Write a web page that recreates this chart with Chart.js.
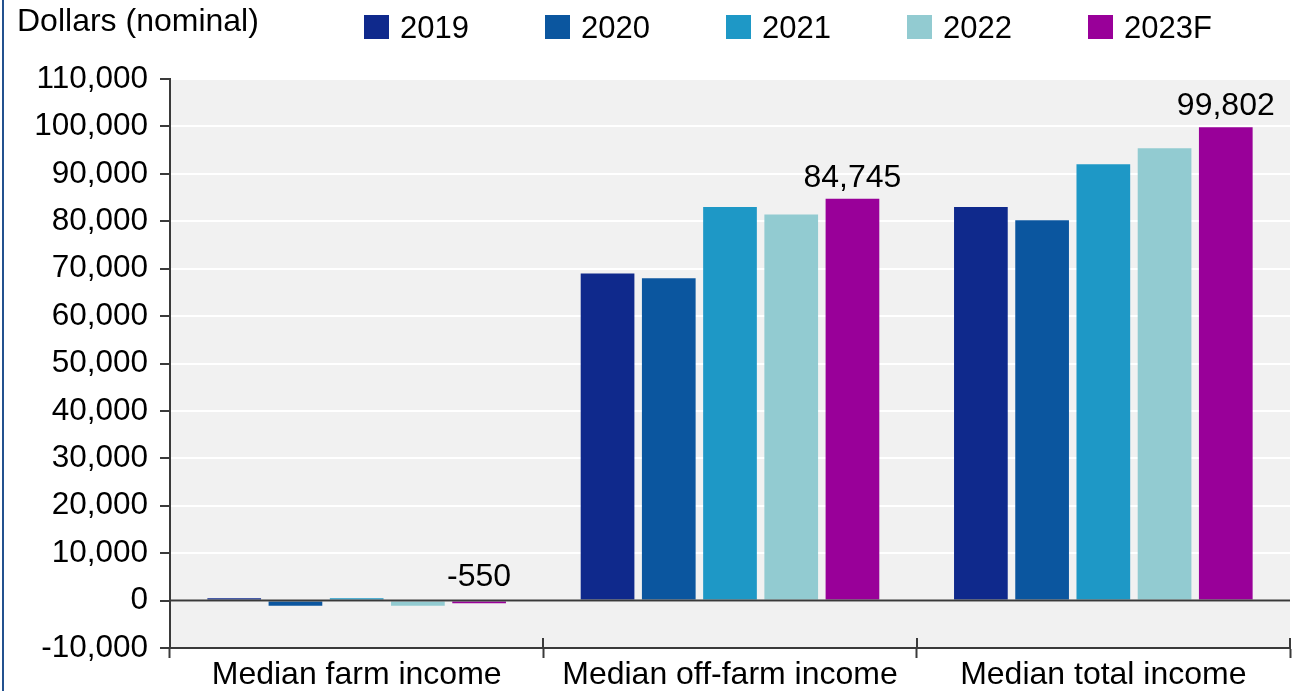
<!DOCTYPE html>
<html>
<head>
<meta charset="utf-8">
<title>Farm household income</title>
<script src="https://cdn.jsdelivr.net/npm/chart.js@4.4.1/dist/chart.umd.min.js"></script>
<style>
  html, body { margin: 0; padding: 0; background: #ffffff; }
  #wrap { width: 1294px; height: 691px; position: relative; }
</style>
</head>
<body>
<div id="wrap"><canvas id="chart" width="1294" height="691"></canvas></div>
<script>
// Categories and series
const categories = ['Median farm income', 'Median off-farm income', 'Median total income'];
const seriesNames = ['2019', '2020', '2021', '2022', '2023F'];
const values2019 = [500, 69000, 83000];
const values2020 = [-1100, 68000, 80200];
const values2021 = [500, 83000, 92000];
const values2022 = [-1100, 81400, 95400];
const values2023F = [-550, 84745, 99802];
const seriesColors = ['#0f298c', '#0b569f', '#1e98c6', '#92cbd1', '#990099'];

// Y axis range and step
const yMin = -10000;
const yMax = 110000;
const yStep = 10000;
const yAxisTitle = 'Dollars (nominal)';

// Only the forecast series carries value labels
const labeledSeries = '2023F';

const FONT = "'Liberation Sans', Arial, sans-serif";
const AXIS_COLOR = '#3a3a3a';

const allValues = [values2019, values2020, values2021, values2022, values2023F];

const fmt = v => v.toLocaleString('en-US');

// Page frame, plot background and the top header (axis title + legend)
const framePlugin = {
  id: 'frame',
  beforeDraw(chart) {
    const { ctx, chartArea: a } = chart;
    ctx.save();
    ctx.fillStyle = '#f1f1f1';
    ctx.fillRect(a.left, a.top, a.right - a.left, a.bottom - a.top);
    ctx.fillStyle = '#23518f';
    ctx.fillRect(2, 0, 2, chart.height);
    ctx.restore();
  },
  afterDraw(chart) {
    const { ctx } = chart;
    ctx.save();
    ctx.fillStyle = '#000';
    ctx.textBaseline = 'alphabetic';
    ctx.textAlign = 'left';
    ctx.font = '32px ' + FONT;
    ctx.fillText(yAxisTitle, 17, 31);
    ctx.font = '31px ' + FONT;
    chart.data.datasets.forEach((ds, i) => {
      const x0 = 364 + i * 181;
      ctx.fillStyle = ds.backgroundColor;
      ctx.fillRect(x0, 15, 25, 24);
      ctx.fillStyle = '#000';
      ctx.fillText(ds.label, x0 + 36, 38);
    });
    ctx.restore();
  }
};

// Zero line over the bars, category tick marks crossing the x axis, value labels
const axisPlugin = {
  id: 'axisMarks',
  afterDatasetsDraw(chart) {
    const { ctx, chartArea: a, scales } = chart;
    const y0 = scales.y.getPixelForValue(0);
    ctx.save();
    ctx.strokeStyle = AXIS_COLOR;
    ctx.lineWidth = 2;
    ctx.beginPath();
    ctx.moveTo(a.left, y0);
    ctx.lineTo(a.right, y0);
    ctx.stroke();
    const x = scales.x;
    const n = chart.data.labels.length;
    const w = (x.right - x.left) / n;
    ctx.beginPath();
    for (let k = 1; k <= n; k++) {
      const px = Math.round(x.left + k * w);
      ctx.moveTo(px, a.bottom - 10);
      ctx.lineTo(px, a.bottom);
    }
    ctx.stroke();
    ctx.restore();
  },
  afterDraw(chart) {
    const { ctx } = chart;
    ctx.save();
    ctx.font = '32px ' + FONT;
    ctx.fillStyle = '#000';
    ctx.textAlign = 'center';
    ctx.textBaseline = 'alphabetic';
    chart.data.datasets.forEach((ds, i) => {
      if (ds.label !== labeledSeries) return;
      chart.getDatasetMeta(i).data.forEach((bar, j) => {
        const top = Math.min(bar.y, bar.base);
        const gap = ds.data[j] < 0 ? 16 : 12;
        ctx.fillText(fmt(ds.data[j]), bar.x, top - gap);
      });
    });
    ctx.restore();
  }
};

new Chart(document.getElementById('chart'), {
  type: 'bar',
  data: {
    labels: categories,
    datasets: seriesNames.map((name, i) => ({
      label: name,
      data: allValues[i],
      backgroundColor: seriesColors[i],
      borderWidth: 0,
      categoryPercentage: 0.82,
      barPercentage: 0.877
    }))
  },
  options: {
    responsive: false,
    animation: false,
    devicePixelRatio: 1,
    layout: { padding: { top: 79, right: 4, left: 0, bottom: 0 } },
    plugins: {
      legend: { display: false },
      tooltip: { enabled: false }
    },
    scales: {
      x: {
        offset: true,
        afterFit(s) { s.height = 43; },
        grid: {
          display: true,
          drawOnChartArea: false,
          drawTicks: true,
          tickLength: 10,
          tickColor: AXIS_COLOR,
          tickWidth: 2,
          offset: true
        },
        border: { display: true, color: AXIS_COLOR, width: 2 },
        ticks: {
          color: '#000',
          padding: 1,
          font: { family: FONT, size: 32, lineHeight: 1 },
          maxRotation: 0
        }
      },
      y: {
        min: yMin,
        max: yMax,
        afterFit(s) { s.width = 170; },
        grid: {
          color: '#ffffff',
          lineWidth: 2,
          drawTicks: true,
          tickLength: 10,
          tickColor: AXIS_COLOR,
          tickWidth: 2
        },
        border: { display: true, color: AXIS_COLOR, width: 2 },
        ticks: {
          stepSize: yStep,
          color: '#000',
          padding: 12,
          font: { family: FONT, size: 31.5 },
          callback: v => fmt(v)
        }
      }
    }
  },
  plugins: [framePlugin, axisPlugin]
});
</script>
</body>
</html>
